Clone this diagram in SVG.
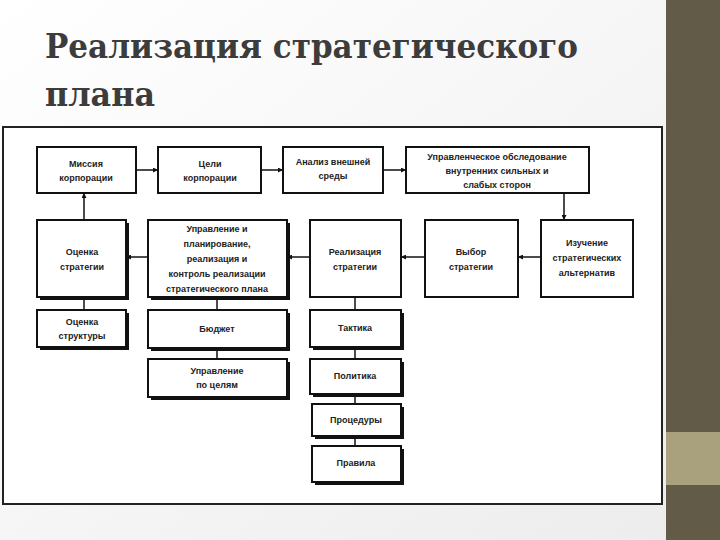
<svg xmlns="http://www.w3.org/2000/svg" width="720" height="540" viewBox="0 0 720 540">
<defs>
<linearGradient id="bg" x1="0" y1="0" x2="1" y2="1"><stop offset="0" stop-color="#ffffff"/><stop offset="1" stop-color="#ececec"/></linearGradient>
<marker id="ar" viewBox="0 0 10 10" refX="10" refY="5" markerWidth="6" markerHeight="5" orient="auto" markerUnits="userSpaceOnUse"><path d="M0,0 L10,5 L0,10 z" fill="#111"/></marker>
<style>
.b{fill:#fff;stroke:#111;stroke-width:2}
.s{fill:#111}
.t{font-family:"Liberation Sans",Arial,sans-serif;font-size:9px;font-weight:bold;fill:#222;text-anchor:middle}
.c{stroke:#111;stroke-width:1.5;fill:none}
.a{stroke:#111;stroke-width:1.5;fill:none;marker-end:url(#ar)}
.h{font-family:"DejaVu Serif","Liberation Serif",serif;font-size:33px;font-weight:bold;fill:#3c3c3c}
</style>
</defs>
<rect width="720" height="540" fill="url(#bg)"/>
<rect x="666" y="0" width="54" height="540" fill="#625b47"/>
<rect x="666" y="432" width="54" height="53" fill="#a9a17d"/>
<text class="h" x="45" y="58" textLength="533" lengthAdjust="spacingAndGlyphs">Реализация стратегического</text>
<text class="h" x="45" y="106" textLength="110" lengthAdjust="spacingAndGlyphs">плана</text>
<rect x="3" y="127" width="659" height="377" fill="#fff" stroke="#222" stroke-width="2"/>

<g id="connectors">
<line class="a" x1="136" y1="170" x2="158" y2="170"/>
<line class="a" x1="261" y1="170" x2="283" y2="170"/>
<line class="a" x1="383" y1="170" x2="406" y2="170"/>
<line class="a" x1="564" y1="193" x2="564" y2="220"/>
<line class="a" x1="541" y1="257" x2="518" y2="257"/>
<line class="a" x1="425" y1="257" x2="401" y2="257"/>
<line class="a" x1="310" y1="257" x2="287" y2="257"/>
<line class="a" x1="148" y1="257" x2="126" y2="257"/>
<line class="a" x1="84" y1="220" x2="84" y2="193"/>
<line class="c" x1="84" y1="297" x2="84" y2="310"/>
<line class="c" x1="217" y1="297" x2="217" y2="310"/>
<line class="c" x1="217" y1="348" x2="217" y2="359"/>
<line class="c" x1="355" y1="297" x2="355" y2="310"/>
<line class="c" x1="355" y1="347" x2="355" y2="359"/>
<line class="c" x1="355" y1="394" x2="355" y2="404"/>
<line class="c" x1="355" y1="436" x2="355" y2="446"/>
</g>

<g id="n1"><rect class="b" x="37" y="147" width="99" height="46"/><text class="t" x="86" y="167">Миссия</text><text class="t" x="86" y="181">корпорации</text></g>
<g id="n2"><rect class="b" x="158" y="147" width="103" height="46"/><text class="t" x="210" y="167">Цели</text><text class="t" x="210" y="181">корпорации</text></g>
<g id="n3"><rect class="b" x="283" y="147" width="100" height="46"/><text class="t" x="333" y="165">Анализ внешней</text><text class="t" x="333" y="179">среды</text></g>
<g id="n4"><rect class="b" x="406" y="147" width="183" height="46"/><text class="t" x="497" y="160">Управленческое обследование</text><text class="t" x="497" y="174">внутренних сильных и</text><text class="t" x="497" y="188">слабых сторон</text></g>

<g id="n5"><rect class="s" x="40" y="223" width="89" height="77"/><rect class="b" x="37" y="220" width="89" height="77"/><text class="t" x="82" y="255">Оценка</text><text class="t" x="82" y="270">стратегии</text></g>
<g id="n6"><rect class="s" x="151" y="223" width="139" height="77"/><rect class="b" x="148" y="220" width="139" height="77"/><text class="t" x="217" y="232">Управление и</text><text class="t" x="217" y="247">планирование,</text><text class="t" x="217" y="262">реализация и</text><text class="t" x="217" y="277">контроль реализации</text><text class="t" x="217" y="292">стратегического плана</text></g>
<g id="n7"><rect class="b" x="310" y="220" width="91" height="77"/><text class="t" x="355" y="255">Реализация</text><text class="t" x="355" y="270">стратегии</text></g>
<g id="n8"><rect class="b" x="425" y="220" width="93" height="77"/><text class="t" x="471" y="255">Выбор</text><text class="t" x="471" y="270">стратегии</text></g>
<g id="n9"><rect class="b" x="541" y="220" width="92" height="77"/><text class="t" x="587" y="246">Изучение</text><text class="t" x="587" y="261">стратегических</text><text class="t" x="587" y="276">альтернатив</text></g>

<g id="n10"><rect class="s" x="40" y="313" width="89" height="37"/><rect class="b" x="37" y="310" width="89" height="37"/><text class="t" x="82" y="325">Оценка</text><text class="t" x="82" y="339">структуры</text></g>
<g id="n11"><rect class="s" x="151" y="313" width="139" height="38"/><rect class="b" x="148" y="310" width="139" height="38"/><text class="t" x="217" y="332">Бюджет</text></g>
<g id="n12"><rect class="s" x="151" y="362" width="139" height="38"/><rect class="b" x="148" y="359" width="139" height="38"/><text class="t" x="217" y="374">Управление</text><text class="t" x="217" y="388">по целям</text></g>
<g id="n13"><rect class="s" x="313" y="313" width="91" height="37"/><rect class="b" x="310" y="310" width="91" height="37"/><text class="t" x="355" y="331">Тактика</text></g>
<g id="n14"><rect class="s" x="313" y="362" width="91" height="35"/><rect class="b" x="310" y="359" width="91" height="35"/><text class="t" x="355" y="379">Политика</text></g>
<g id="n15"><rect class="s" x="315" y="407" width="89" height="32"/><rect class="b" x="312" y="404" width="89" height="32"/><text class="t" x="356" y="423">Процедуры</text></g>
<g id="n16"><rect class="s" x="315" y="449" width="89" height="36"/><rect class="b" x="312" y="446" width="89" height="36"/><text class="t" x="356" y="466">Правила</text></g>
</svg>
